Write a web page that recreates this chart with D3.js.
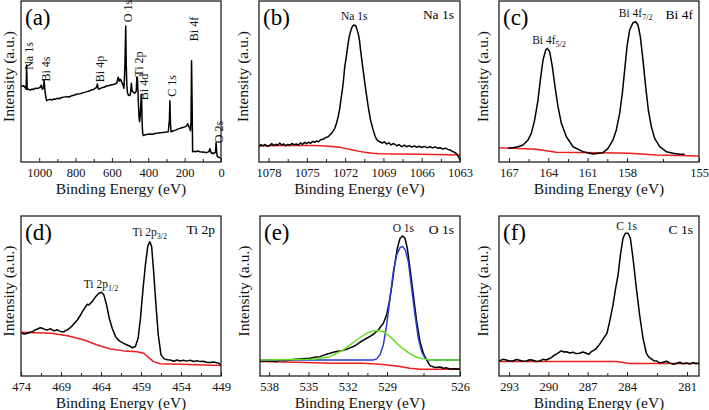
<!DOCTYPE html>
<html><head><meta charset="utf-8">
<script src="https://cdn.jsdelivr.net/npm/d3@7"></script>
<style>body{margin:0;background:#fff}svg{display:block}</style>
</head><body>
<svg id="c" width="709" height="410"></svg>
<script>
// ---------- tick labels ----------
const ticksA = [1000, 800, 600, 400, 200, 0];
const ticksB = [1078, 1075, 1072, 1069, 1066, 1063];
const ticksC = [167, 164, 161, 158, 155];
const ticksD = [474, 469, 464, 459, 454, 449];
const ticksE = [538, 535, 532, 529, 526];
const ticksF = [293, 290, 287, 284, 281];

// ---------- (a) survey spectrum [binding energy, intensity] ----------
const surveyBlack = [[1100,47.8],[1090,46.9],[1085,47.4],[1078,46.4],[1072,45.2],[1069,60.2],[1066,45.0],[1063,45.4],[1050,44.6],[1040,45.3],[1032,45.0],[1020,45.9],[1010,45.6],[995,46.4],[988,47.8],[983,45.2],[976,46.0],[973,50.9],[968,43.9],[962,39.5],[959,38.1],[950,38.6],[940,38.9],[930,38.5],[920,39.2],[910,39.0],[900,39.6],[890,39.3],[880,39.9],[865,40.3],[849,40.6],[835,40.4],[820,41.2],[805,41.6],[790,42.2],[775,42.4],[757,43.1],[745,43.4],[730,44.0],[720,44.3],[710,44.9],[700,45.1],[693,45.8],[685,46.2],[680,48.4],[676,46.0],[673,45.2],[660,45.9],[650,46.3],[640,46.6],[629,47.2],[615,47.5],[600,48.0],[587,48.3],[574,48.9],[568,51.5],[565,52.6],[560,50.2],[556,51.4],[552,51.2],[546,49.6],[541,48.4],[537,47.0],[534,45.8],[531,52.0],[528,62.0],[524,84.5],[521,60.0],[518,48.0],[515,43.5],[510,41.6],[503,41.2],[498,42.0],[493,48.9],[489,44.0],[483,43.5],[475,42.7],[470,43.3],[466,44.2],[463,52.6],[460,52.6],[457,45.0],[455,38.5],[451,28.0],[448,25.0],[444,29.0],[440,38.0],[437,41.6],[434,25.0],[431,17.8],[427,16.5],[420,16.8],[405,17.2],[391,17.4],[375,17.2],[360,17.8],[345,18.0],[335,18.2],[320,18.3],[300,18.6],[290,18.8],[284,26.0],[281,38.1],[278,24.0],[275,18.8],[262,19.4],[250,19.8],[238,20.4],[226,20.9],[215,21.3],[205,21.6],[196,22.0],[189,22.4],[183,23.8],[178,22.4],[172,21.0],[168,19.5],[165,25.0],[162,62.9],[159,38.0],[156,6.4],[148,6.6],[140,6.4],[128,6.8],[116,6.4],[104,6.2],[90,6.0],[79,5.8],[70,6.3],[66,6.5],[61,8.3],[56,6.2],[51,5.3],[45,5.6],[40,5.2],[34,5.8],[30,6.0],[27,12.0],[24,6.0],[20,3.3],[10,2.8],[0,2.5]];

// ---------- (b) Na 1s ----------
const naBlack = [[1078.00,9.5],[1077.85,10.8],[1077.70,10.0],[1077.55,10.9],[1077.40,9.8],[1077.20,10.3],[1077.05,11.4],[1076.90,10.2],[1076.75,11.0],[1076.60,10.4],[1076.46,11.8],[1076.30,10.6],[1076.15,11.2],[1076.00,10.1],[1075.85,11.0],[1075.71,10.3],[1075.55,11.5],[1075.40,10.8],[1075.21,11.2],[1075.05,10.5],[1074.90,11.9],[1074.75,11.0],[1074.60,12.2],[1074.46,11.4],[1074.30,12.4],[1074.15,11.6],[1074.00,12.8],[1073.85,12.2],[1073.71,13.0],[1073.55,12.6],[1073.40,13.8],[1073.22,14.1],[1073.05,15.0],[1072.90,15.5],[1072.84,15.7],[1072.70,16.9],[1072.59,17.8],[1072.45,19.5],[1072.34,20.9],[1072.20,24.5],[1072.09,28.1],[1071.98,33.0],[1071.89,38.5],[1071.80,43.5],[1071.72,48.8],[1071.60,59.2],[1071.50,64.5],[1071.42,69.5],[1071.27,77.8],[1071.10,83.0],[1071.00,84.6],[1070.92,85.1],[1070.77,84.5],[1070.60,79.9],[1070.50,75.5],[1070.42,69.5],[1070.23,57.1],[1070.03,44.7],[1069.85,34.4],[1069.68,26.1],[1069.48,19.9],[1069.35,16.5],[1069.23,14.1],[1069.10,13.0],[1068.98,12.6],[1068.80,11.8],[1068.65,12.5],[1068.48,11.2],[1068.30,11.9],[1068.15,10.6],[1067.95,11.5],[1067.73,10.1],[1067.55,10.8],[1067.35,9.6],[1067.15,10.5],[1066.99,9.5],[1066.80,10.2],[1066.60,9.3],[1066.40,10.0],[1066.24,9.1],[1066.05,9.8],[1065.85,9.0],[1065.65,9.7],[1065.45,8.9],[1065.24,9.5],[1065.05,8.8],[1064.85,9.4],[1064.65,8.5],[1064.49,8.9],[1064.30,8.1],[1064.10,8.6],[1063.90,7.8],[1063.75,7.6],[1063.55,6.5],[1063.40,6.0],[1063.25,5.0],[1063.10,3.2],[1063.00,1.2]];
const naRed = [[1078.0,10.1],[1076.0,10.2],[1074.0,10.2],[1073.0,10.0],[1072.5,9.6],[1072.0,9.1],[1071.5,8.3],[1071.0,7.4],[1070.5,6.6],[1070.0,5.9],[1069.5,5.4],[1069.0,5.1],[1068.0,5.0],[1066.0,4.8],[1064.0,4.5],[1063.0,4.4]];

// ---------- (c) Bi 4f ----------
const biBlack = [[166.46,8.5],[166.16,8.9],[165.86,9.5],[165.56,10.6],[165.26,13.7],[165.06,17.8],[164.86,26.1],[164.66,38.5],[164.52,50.9],[164.36,63.3],[164.20,69.5],[164.10,70.6],[163.96,68.5],[163.80,59.2],[163.64,46.8],[163.46,34.4],[163.26,24.0],[162.96,15.7],[162.56,9.5],[161.96,6.4],[161.36,5.0],[160.76,5.8],[160.46,8.5],[160.16,13.7],[159.96,19.9],[159.76,30.2],[159.60,42.6],[159.46,57.1],[159.32,71.6],[159.16,82.0],[158.96,86.5],[158.80,87.1],[158.66,85.1],[158.52,77.8],[158.36,63.3],[158.20,46.8],[158.04,32.3],[157.86,22.0],[157.66,14.7],[157.36,9.5],[156.96,6.4],[156.56,5.4],[156.16,4.8],[155.86,4.8]];
const biRed = [[167.0,8.9],[164.76,7.9],[163.56,6.0],[160.76,5.8],[159.16,5.4],[157.56,4.4],[155.0,3.7]];

// ---------- (d) Ti 2p ----------
const tiBlack = [[474.00,27.1],[473.60,26.2],[473.17,26.7],[472.85,27.5],[472.55,27.7],[472.20,28.9],[471.93,29.4],[471.60,30.2],[471.31,29.8],[471.00,29.1],[470.68,28.8],[470.30,29.5],[469.85,28.2],[469.50,28.9],[469.23,28.2],[468.90,27.6],[468.61,27.7],[468.40,28.5],[468.20,28.8],[467.90,30.0],[467.57,31.5],[467.25,33.4],[466.95,35.0],[466.60,37.8],[466.33,40.2],[466.10,42.0],[465.92,43.4],[465.70,44.8],[465.50,44.4],[465.30,45.6],[465.09,46.5],[464.88,48.2],[464.67,49.6],[464.45,50.8],[464.26,51.7],[463.93,52.3],[463.64,50.7],[463.30,44.4],[462.97,36.1],[462.60,29.8],[462.18,24.6],[461.85,22.6],[461.56,21.5],[461.15,20.4],[460.73,19.4],[460.40,18.6],[460.11,17.7],[459.70,18.4],[459.36,23.6],[459.07,36.1],[458.74,54.8],[458.45,69.4],[458.16,80.9],[457.91,84.0],[457.67,80.9],[457.42,65.2],[457.13,44.4],[456.84,25.6],[456.50,13.2],[456.09,10.7],[455.70,10.2],[455.34,10.0],[454.90,9.2],[454.50,10.0],[454.10,9.4],[453.70,9.9],[453.30,9.3],[452.86,9.8],[452.40,9.1],[452.00,9.6],[451.61,9.0],[451.20,9.2],[450.80,8.6],[450.37,8.4],[449.90,8.7],[449.33,8.0],[449.00,6.9]];
const tiRed = [[474.0,27.3],[470.27,26.7],[468.20,25.2],[466.12,22.5],[464.46,19.4],[462.81,16.9],[461.15,15.7],[459.49,15.2],[458.66,14.2],[458.04,11.5],[457.42,9.0],[456.59,7.7],[454.10,7.3],[449.0,6.5]];

// ---------- (e) O 1s ----------
const oBlack = [[538.0,9.0],[537.7,9.6],[537.4,9.4],[537.1,9.0],[536.8,9.8],[536.5,9.5],[536.2,10.0],[535.9,10.4],[535.6,10.7],[535.3,10.9],[535.0,11.1],[534.7,11.8],[534.4,12.1],[534.2,12.9],[534.0,13.6],[533.8,14.2],[533.6,14.8],[533.4,15.3],[533.2,15.7],[533.0,16.0],[532.8,16.7],[532.6,17.6],[532.4,18.4],[532.2,19.6],[532.0,21.1],[531.8,22.4],[531.6,23.6],[531.4,24.8],[531.2,26.1],[530.9,28.8],[530.6,33.0],[530.4,38.2],[530.24,46.5],[530.08,56.9],[529.92,69.4],[529.76,79.8],[529.6,86.1],[529.44,87.5],[529.3,86.1],[529.16,79.8],[529.0,67.3],[528.8,50.7],[528.6,34.0],[528.4,21.5],[528.2,14.2],[528.0,10.0],[527.8,6.5],[527.5,5.3],[527.2,5.6],[527.0,4.8],[526.8,5.1],[526.6,4.4],[526.3,4.6],[526.0,4.4]];
const oBlue = [[538.0,10.0],[531.2,10.0],[531.0,10.7],[530.8,13.2],[530.6,19.4],[530.4,31.9],[530.2,48.6],[530.0,65.2],[529.8,75.6],[529.6,80.2],[529.44,80.9],[529.28,78.8],[529.1,71.5],[528.9,54.8],[528.7,38.2],[528.5,23.6],[528.3,15.2],[528.1,11.1],[527.9,10.0],[526.0,10.0]];
const oGreen = [[538.0,10.0],[534.8,10.5],[533.8,12.1],[533.0,16.3],[532.2,22.5],[531.6,26.7],[531.2,28.2],[530.9,28.4],[530.6,27.7],[530.2,24.6],[529.8,20.5],[529.4,16.9],[529.0,13.8],[528.6,11.7],[528.2,10.7],[527.8,10.0],[526.0,10.0]];
const oRed = [[538.0,9.0],[535.8,8.6],[533.8,8.0],[531.8,8.0],[530.8,7.3],[529.8,6.3],[529.0,4.8],[528.4,4.2],[526.0,4.2]];

// ---------- (f) C 1s ----------
const cBlack = [[293.00,9.4],[292.75,10.4],[292.52,10.0],[292.30,9.3],[292.09,9.4],[291.87,10.3],[291.66,9.8],[291.44,9.2],[291.22,9.4],[291.00,10.2],[290.79,9.8],[290.57,9.1],[290.36,9.4],[290.14,10.4],[289.92,10.0],[289.76,10.8],[289.60,11.5],[289.43,12.9],[289.27,13.6],[289.10,14.8],[288.95,15.7],[288.78,15.0],[288.62,15.2],[288.40,14.4],[288.19,14.8],[287.98,14.0],[287.76,14.2],[287.55,15.0],[287.32,14.2],[287.16,13.6],[287.00,15.2],[286.84,16.0],[286.67,17.3],[286.54,18.8],[286.41,20.5],[286.30,22.1],[286.20,23.6],[286.09,25.2],[285.98,26.7],[285.81,34.0],[285.59,44.4],[285.42,54.8],[285.26,63.2],[285.11,75.6],[284.94,86.1],[284.79,89.2],[284.61,89.2],[284.46,86.1],[284.29,73.6],[284.07,54.8],[283.86,38.2],[283.64,23.6],[283.42,14.2],[283.26,11.8],[283.10,10.7],[282.94,9.6],[282.77,9.4],[282.55,8.2],[282.34,8.6],[282.12,9.2],[281.91,8.2],[281.69,7.4],[281.47,7.8],[281.25,8.6],[281.04,7.6],[280.82,8.2],[280.60,7.5],[280.40,8.4],[280.20,7.8],[280.00,8.0]];
const cRed = [[293.0,9.0],[288.19,9.0],[285.37,9.0],[284.51,7.8],[280.0,7.8]];

// ---------- layout (positions / styles only) ----------
// dataDom: linear energy span of each frame; axisDom/axisFrac: where the printed
// tick labels of the original figure sit along each frame.
const RED = "#ee1d1d", BLUE = "#2a3ad0", GREEN = "#62e01e";
const panels = [
  {x:21, y:1, w:200, h:161, dataDom:[1100,0], axisDom:[1100,0], axisFrac:[0,1], ticks:ticksA, letter:"(a)", ytx:-7,
   series:[{d:surveyBlack, c:"#000"}], name:null},
  {x:259, y:1, w:201, h:161, dataDom:[1078,1063], axisDom:[1078.75,1063], axisFrac:[0,1], ticks:ticksB, letter:"(b)", ytx:-11,
   series:[{d:naRed, c:RED},{d:naBlack, c:"#000"}], name:"Na 1s"},
  {x:499, y:1, w:200, h:161, dataDom:[167,155], axisDom:[167.76,158,155], axisFrac:[0,0.64,1], ticks:ticksC, letter:"(c)", ytx:-11,
   series:[{d:biRed, c:RED},{d:biBlack, c:"#000"}], name:"Bi 4f"},
  {x:21, y:216, w:200, h:160, dataDom:[474,449], axisDom:[474,449], axisFrac:[0,1], ticks:ticksD, letter:"(d)", ytx:-7,
   series:[{d:tiRed, c:RED},{d:tiBlack, c:"#000"}], name:"Ti 2p"},
  {x:260, y:216, w:200, h:160, dataDom:[538,526], axisDom:[538.7,529,526], axisFrac:[0,0.635,1], ticks:ticksE, letter:"(e)", ytx:-11,
   series:[{d:oRed, c:RED},{d:oBlack, c:"#000"},{d:oBlue, c:BLUE},{d:oGreen, c:GREEN}], name:"O 1s"},
  {x:499, y:216, w:200, h:160, dataDom:[293,280], axisDom:[293.77,284,281,280.4], axisFrac:[0,0.64,0.94,1], ticks:ticksF, letter:"(f)", ytx:-11,
   series:[{d:cRed, c:RED},{d:cBlack, c:"#000"}], name:"C 1s"}
];

const svg = d3.select("#c");
const FONT = "'Liberation Serif','Times New Roman',serif";
svg.append("rect").attr("width",709).attr("height",410).attr("fill","#fff");

panels.forEach((p,i) => {
  const g = svg.append("g").attr("transform",`translate(${p.x},${p.y})`);
  const x = d3.scaleLinear().domain(p.dataDom).range([0,p.w]);
  const xa = d3.scaleLinear().domain(p.axisDom).range(p.axisFrac.map(f=>f*p.w));
  const y = d3.scaleLinear().domain([0,100]).range([p.h,0]);
  const cid = "clip"+i;
  g.append("clipPath").attr("id",cid).append("rect").attr("width",p.w).attr("height",p.h);

  const line = d3.line().x(d=>x(d[0])).y(d=>y(d[1]));
  const plot = g.append("g").attr("clip-path",`url(#${cid})`);
  p.series.forEach(s => {
    plot.append("path").datum(s.d).attr("d",line).attr("fill","none")
      .attr("stroke",s.c).attr("stroke-width",1.5).attr("stroke-linejoin","round");
  });

  // minor ticks halfway between labelled ticks (and one step beyond, if inside)
  const t = p.ticks, step = t[1]-t[0];
  const lo = Math.min(p.axisDom[0], p.axisDom[p.axisDom.length-1]);
  const hi = Math.max(p.axisDom[0], p.axisDom[p.axisDom.length-1]);
  const minor = [t[0]-step/2, ...t.slice(1).map((v,k)=>(v+t[k])/2), t[t.length-1]+step/2]
    .filter(v => v > lo+1e-6 && v < hi-1e-6);
  const axMinor = d3.axisBottom(xa).tickValues(minor).tickSize(-3).tickFormat("");
  g.append("g").attr("transform",`translate(0,${p.h})`).call(axMinor)
    .call(a=>a.select(".domain").remove())
    .selectAll("line").attr("stroke","#222").attr("stroke-width",1);

  const ax = d3.axisBottom(xa).tickValues(p.ticks).tickSize(-4).tickPadding(6).tickFormat(d3.format("d"));
  const axg = g.append("g").attr("transform",`translate(0,${p.h})`).call(ax);
  axg.select(".domain").remove();
  axg.selectAll("line").attr("stroke","#222").attr("stroke-width",1);
  axg.selectAll("text").attr("font-family",FONT).attr("font-size",12.5).attr("fill","#111");

  // frame
  g.append("rect").attr("width",p.w).attr("height",p.h).attr("fill","none")
    .attr("stroke","#222").attr("stroke-width",1.3);

  // axis titles
  g.append("text").attr("x",p.w/2).attr("y",p.h+32).attr("text-anchor","middle")
    .attr("font-family",FONT).attr("font-size",15.5).attr("fill","#111").text("Binding Energy (eV)");
  g.append("text").attr("transform",`translate(${p.ytx},${p.h/2-5}) rotate(-90)`)
    .attr("text-anchor","middle").attr("font-family",FONT).attr("font-size",15.5).attr("fill","#111")
    .text("Intensity (a.u.)");

  // panel letter
  g.append("text").attr("x",4).attr("y",24).attr("font-family",FONT).attr("font-size",23)
    .attr("fill","#000").text(p.letter);
  if (p.name) {
    g.append("text").attr("x",p.w-6).attr("y",18).attr("text-anchor","end")
      .attr("font-family",FONT).attr("font-size",13.5).attr("fill","#000").text(p.name);
  }
  p.g = g; p.xs = x; p.ys = y;
});

// ---------- peak annotations ----------
const surveyLabels = [["Na 1s",1069,56],["Bi 4s",972,69],["Bi 4p",680,69],["O 1s",524,11],["Ti 2p",462,64],["Bi 4d",436,87],["C 1s",281,86],["Bi 4f",158,29],["O 2s",25,132]];
const pa = panels[0];
surveyLabels.forEach(([t,e,yy]) => {
  pa.g.append("text").attr("transform",`translate(${pa.xs(e)+2},${yy-1}) rotate(-90)`)
    .attr("text-anchor","middle").attr("dy","0.35em").attr("font-family",FONT)
    .attr("font-size",12).attr("fill","#111").text(t);
});

function peakLabel(p, e, yy, main, sub, size) {
  const t = p.g.append("text").attr("x",p.xs(e)).attr("y",yy).attr("text-anchor","middle")
    .attr("font-family",FONT).attr("font-size",size).attr("fill","#111");
  t.append("tspan").text(main);
  if (sub) t.append("tspan").attr("font-size",size*0.7).attr("dy",size*0.25).text(sub);
}
peakLabel(panels[1], 1070.9, 19, "Na 1s", null, 11.5);
peakLabel(panels[2], 164.0, 43, "Bi 4f", "5/2", 11.5);
peakLabel(panels[2], 158.8, 16, "Bi 4f", "7/2", 11.5);
peakLabel(panels[3], 464.0, 72, "Ti 2p", "1/2", 11.5);
peakLabel(panels[3], 457.9, 20, "Ti 2p", "3/2", 11.5);
peakLabel(panels[4], 529.4, 16, "O 1s", null, 11.5);
peakLabel(panels[5], 284.7, 14, "C 1s", null, 11.5);
</script>
</body></html>
